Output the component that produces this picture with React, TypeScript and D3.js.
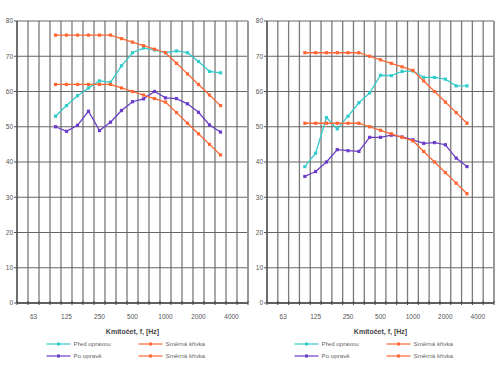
import React from "react";
import * as d3 from "d3";

// third-octave bands on the x axis
const bands = [
  "50", "63", "80", "100", "125", "160", "200", "250", "315", "400", "500",
  "630", "800", "1000", "1250", "1600", "2000", "2500", "3150", "4000", "5000",
];
const tickLabels = ["63", "125", "250", "500", "1000", "2000", "4000"];
const measured = bands.slice(3, 19); // 100 .. 3150 Hz
const yTicks = [0, 10, 20, 30, 40, 50, 60, 70, 80];

// left panel
const leftBefore = [53, 56, 58.8, 61, 63, 62.6, 67.3, 71, 72.3, 71.8, 71, 71.5, 71, 68.5, 65.7, 65.3];
const leftAfter = [50, 48.7, 50.4, 54.4, 48.9, 51.3, 54.6, 57.1, 57.9, 60, 58.2, 58, 56.5, 54.1, 50.5, 48.5];
const leftRefHigh = [76, 76, 76, 76, 76, 76, 75, 74, 73, 72, 71, 68, 65, 62, 59, 56];
const leftRefLow = [62, 62, 62, 62, 62, 62, 61, 60, 59, 58, 57, 54, 51, 48, 45, 42];

// right panel
const rightBefore = [38.7, 42.5, 52.6, 49.4, 53, 56.8, 59.6, 64.6, 64.5, 65.7, 65.8, 64, 64, 63.5, 61.6, 61.6];
const rightAfter = [35.9, 37.3, 40, 43.5, 43.2, 43, 47, 47, 47.6, 47.1, 46.3, 45.3, 45.5, 44.9, 41.1, 38.7];
const rightRefHigh = [71, 71, 71, 71, 71, 71, 70, 69, 68, 67, 66, 63, 60, 57, 54, 51];
const rightRefLow = [51, 51, 51, 51, 51, 51, 50, 49, 48, 47, 46, 43, 40, 37, 34, 31];

const legendNames = ["Před opravou", "Po opravě", "Směrná křivka", "Směrná křivka"];

const CYAN = "#33cccc";
const PURPLE = "#6a3dc8";
const ORANGE = "#ff6633";
const FONT = "Liberation Sans, Arial, sans-serif";

type PanelProps = {
  x0: number;
  x1: number;
  before: number[];
  after: number[];
  refHigh: number[];
  refLow: number[];
};

const Panel = ({ x0, x1, before, after, refHigh, refLow }: PanelProps) => {
  const x = d3.scaleBand<string>().domain(bands).range([x0, x1]).paddingInner(0);
  const y = d3.scaleLinear().domain([0, 80]).range([303, 21]);
  const bw = x.bandwidth();
  const cx = (b: string) => (x(b) as number) + bw / 2;

  const line = d3
    .line<number>()
    .x((_, i) => cx(measured[i]))
    .y((d) => y(d));

  const boundaries = bands.map((b) => x(b) as number).concat([x1]);
  const series = [
    { data: before, color: CYAN },
    { data: after, color: PURPLE },
    { data: refHigh, color: ORANGE },
    { data: refLow, color: ORANGE },
  ];
  const mid = (x0 + x1) / 2;
  const legend = [
    { color: CYAN, lx: mid - 86, ly: 344, name: legendNames[0] },
    { color: PURPLE, lx: mid - 86, ly: 356, name: legendNames[1] },
    { color: ORANGE, lx: mid + 6, ly: 344, name: legendNames[2] },
    { color: ORANGE, lx: mid + 6, ly: 356, name: legendNames[3] },
  ];

  return (
    <g>
      {/* grid */}
      {boundaries.map((bx, i) => (
        <line key={"v" + i} x1={bx} x2={bx} y1={y(80)} y2={y(0)} stroke="#7a7a7a" strokeWidth={1.3} />
      ))}
      {yTicks.map((t) => (
        <line key={"h" + t} x1={x0} x2={x1} y1={y(t)} y2={y(t)} stroke="#666" strokeWidth={1.2} />
      ))}
      {/* axes */}
      <line x1={x0} x2={x0} y1={y(80)} y2={y(0)} stroke="#555" strokeWidth={1.4} />
      <line x1={x0} x2={x1} y1={y(0)} y2={y(0)} stroke="#444" strokeWidth={1.4} />
      <line x1={x1} x2={x1} y1={y(80)} y2={y(0)} stroke="#999" strokeWidth={2} />
      {boundaries.map((bx, i) => (
        <line key={"t" + i} x1={bx} x2={bx} y1={y(0) - 2} y2={y(0) + 2} stroke="#444" strokeWidth={1} />
      ))}
      {yTicks.map((t) => (
        <g key={"yl" + t}>
          <line x1={x0 - 3} x2={x0} y1={y(t)} y2={y(t)} stroke="#555" />
          <text x={x0 - 4} y={y(t)} dy="0.35em" textAnchor="end" fontSize={6.5} fill="#555" fontFamily={FONT}>
            {t}
          </text>
        </g>
      ))}
      {tickLabels.map((t) => (
        <text key={"xl" + t} x={cx(t)} y={319} textAnchor="middle" fontSize={6.5} fill="#555" fontFamily={FONT}>
          {t}
        </text>
      ))}
      <text x={mid} y={334} textAnchor="middle" fontSize={7} fontWeight="bold" fill="#444" fontFamily={FONT}>
        Kmitočet, f, [Hz]
      </text>

      {/* series */}
      {series.map((s, si) => (
        <g key={"s" + si}>
          <path d={line(s.data) as string} fill="none" stroke={s.color} strokeWidth={1.3} />
          {s.data.map((v, i) => (
            <rect key={i} x={cx(measured[i]) - 1.6} y={y(v) - 1.6} width={3.2} height={3.2} fill={s.color} />
          ))}
        </g>
      ))}

      {/* legend */}
      {legend.map((l, i) => (
        <g key={"lg" + i}>
          <line x1={l.lx} x2={l.lx + 24} y1={l.ly} y2={l.ly} stroke={l.color} strokeWidth={1.2} />
          <rect x={l.lx + 10.5} y={l.ly - 1.5} width={3} height={3} fill={l.color} />
          <text x={l.lx + 27} y={l.ly} dy="0.35em" fontSize={6.2} fill="#666" fontFamily={FONT}>
            {l.name}
          </text>
        </g>
      ))}
    </g>
  );
};

export default function App() {
  return (
    <div style={{ position: "absolute", left: 0, top: 0 }}>
      <svg width={500} height={375} style={{ display: "block", background: "#fff" }}>
        <Panel x0={17} x1={248} before={leftBefore} after={leftAfter} refHigh={leftRefHigh} refLow={leftRefLow} />
        <Panel x0={267} x1={494} before={rightBefore} after={rightAfter} refHigh={rightRefHigh} refLow={rightRefLow} />
      </svg>
    </div>
  );
}
